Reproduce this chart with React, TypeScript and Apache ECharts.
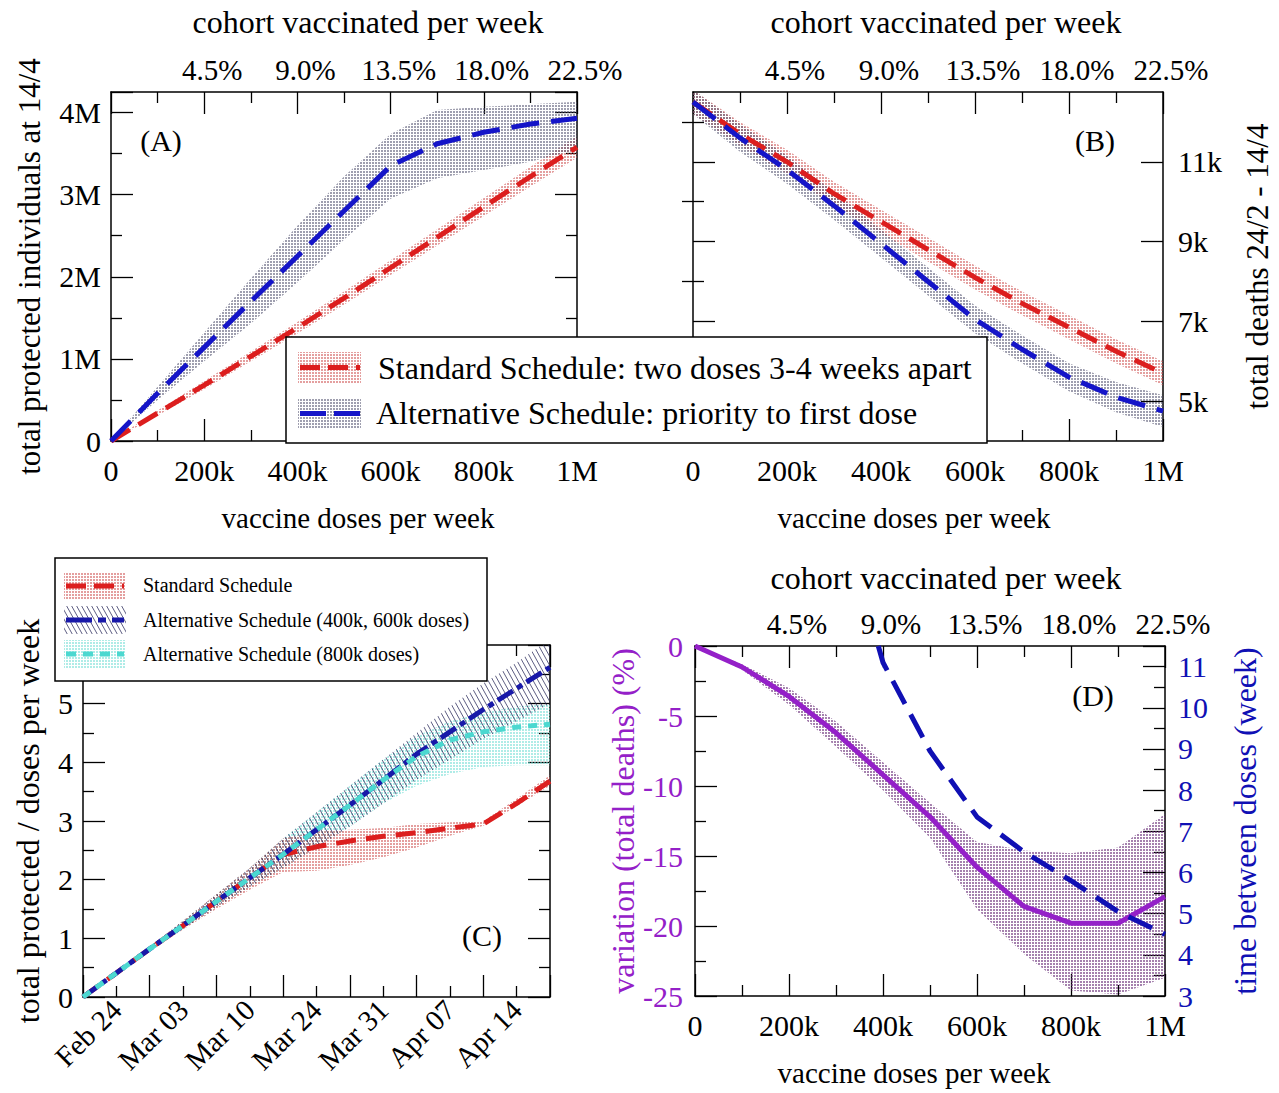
import React, { useEffect, useRef } from "react";
import * as echarts from "echarts";

const FONT = '"Liberation Serif", "Times New Roman", Times, serif';

// ---------- shared axes (thousand doses per week) ----------
const DOSES = [0, 100, 200, 300, 400, 500, 600, 700, 800, 900, 1000];
const DOSE_LABELS = ["0", "200k", "400k", "600k", "800k", "1M"];
const PCT_LABELS = ["", "4.5%", "9.0%", "13.5%", "18.0%", "22.5%"];

// ---------- Panel A : total protected individuals at 14/4 (millions) ----------
const A_STD = [0, 0.34, 0.68, 1.03, 1.38, 1.74, 2.11, 2.48, 2.85, 3.22, 3.58];
const A_STD_LO = [0, 0.31, 0.63, 0.97, 1.31, 1.66, 2.02, 2.38, 2.74, 3.1, 3.45];
const A_STD_HI = [0, 0.37, 0.73, 1.09, 1.45, 1.82, 2.2, 2.58, 2.96, 3.34, 3.71];
const A_ALT = [0, 0.58, 1.14, 1.7, 2.25, 2.8, 3.35, 3.62, 3.76, 3.86, 3.93];
const A_ALT_LO = [0, 0.5, 0.97, 1.43, 1.93, 2.45, 2.95, 3.2, 3.3, 3.4, 3.55];
const A_ALT_HI = [0, 0.66, 1.32, 1.98, 2.62, 3.22, 3.74, 4.03, 4.07, 4.1, 4.13];

// ---------- Panel B : total deaths 24/2 - 14/4 (thousands) ----------
const B_STD = [12.5, 11.7, 11.0, 10.2, 9.5, 8.8, 8.1, 7.45, 6.85, 6.25, 5.7];
const B_STD_LO = [12.2, 11.4, 10.7, 9.9, 9.2, 8.5, 7.8, 7.15, 6.55, 5.95, 5.4];
const B_STD_HI = [12.8, 12.0, 11.3, 10.5, 9.8, 9.1, 8.4, 7.75, 7.15, 6.55, 6.0];
const B_ALT = [12.5, 11.6, 10.8, 9.9, 8.95, 8.0, 7.05, 6.3, 5.6, 5.1, 4.75];
const B_ALT_LO = [12.2, 11.25, 10.45, 9.55, 8.6, 7.65, 6.7, 5.95, 5.25, 4.72, 4.35];
const B_ALT_HI = [12.8, 11.95, 11.15, 10.25, 9.3, 8.35, 7.4, 6.65, 5.95, 5.48, 5.15];
const B_MAJOR = [5, 7, 9, 11];
const B_MINOR = [6, 8, 10, 12];

// ---------- Panel C : total protected / doses per week ----------
const C_T = [0, 1, 2, 3, 4, 5, 6, 7, 8, 9, 10, 11, 12, 13, 14];
const C_DATE_POS = [1, 3, 5, 7, 9, 11, 13];
const C_DATE_LABELS = ["Feb 24", "Mar 03", "Mar 10", "Mar 24", "Mar 31", "Apr 07", "Apr 14"];
const C_STD = [0, 0.41, 0.82, 1.22, 1.63, 2.03, 2.43, 2.56, 2.66, 2.74, 2.8, 2.88, 2.95, 3.3, 3.68];
const C_STD_LO = [0, 0.39, 0.78, 1.15, 1.5, 1.83, 2.13, 2.15, 2.25, 2.38, 2.55, 2.75, 2.92, 3.25, 3.6];
const C_STD_HI = [0, 0.43, 0.86, 1.3, 1.75, 2.2, 2.7, 2.82, 2.85, 2.88, 2.95, 2.98, 3.0, 3.38, 3.78];
const C_ALT = [0, 0.41, 0.82, 1.22, 1.63, 2.03, 2.43, 2.85, 3.27, 3.7, 4.14, 4.52, 4.9, 5.26, 5.62];
const C_ALT_LO = [0, 0.39, 0.78, 1.16, 1.53, 1.88, 2.2, 2.55, 2.9, 3.3, 3.7, 4.05, 4.4, 4.7, 5.0];
const C_ALT_HI = [0, 0.43, 0.86, 1.3, 1.75, 2.2, 2.7, 3.15, 3.6, 4.05, 4.5, 4.95, 5.35, 5.7, 6.1];
const C_ALT8 = [0, 0.41, 0.82, 1.22, 1.63, 2.03, 2.43, 2.85, 3.27, 3.7, 4.1, 4.38, 4.52, 4.6, 4.65];
const C_ALT8_LO = [0, 0.39, 0.78, 1.16, 1.53, 1.88, 2.2, 2.55, 2.9, 3.3, 3.6, 3.8, 3.92, 3.95, 3.95];
const C_ALT8_HI = [0, 0.43, 0.86, 1.3, 1.75, 2.2, 2.7, 3.15, 3.6, 4.05, 4.45, 4.7, 4.85, 4.95, 5.0];

// ---------- Panel D ----------
const D_VAR = [0, -1.5, -3.6, -6.2, -9.2, -12.2, -15.8, -18.6, -19.8, -19.8, -17.9];
const D_VAR_LO = [0, -1.7, -4.2, -7.2, -10.3, -13.7, -18.8, -22.0, -24.6, -24.9, -23.7];
const D_VAR_HI = [0, -1.3, -3.0, -5.4, -8.3, -11.2, -14.0, -14.6, -14.8, -14.4, -12.0];
const D_GAP_X = [390, 400, 500, 600, 700, 800, 900, 1000];
const D_GAP = [11.5, 11.1, 8.95, 7.35, 6.5, 5.8, 5.05, 4.5];

// ---------- colours ----------
const RED = "#dc1e1e";
const BLUE = "#1515c8";
const NAVY = "#1818a8";
const CYAN = "#4cd8d0";
const PURPLE = "#9420c8";
const DBLUE = "#1010b4";

function dotPattern(color: string): any {
  const c = document.createElement("canvas");
  c.width = 3;
  c.height = 3;
  const g = c.getContext("2d")!;
  g.fillStyle = color;
  g.fillRect(0, 0, 2, 2);
  return { image: c, repeat: "repeat", imageWidth: 3, imageHeight: 3 };
}

function hatchPattern(): any {
  const w = 5;
  const h = 9;
  const c = document.createElement("canvas");
  c.width = w;
  c.height = h;
  const g = c.getContext("2d")!;
  g.strokeStyle = "rgba(40, 40, 90, 0.75)";
  g.lineWidth = 1;
  g.beginPath();
  for (let k = -1; k <= 1; k++) {
    g.moveTo(k * w, 0);
    g.lineTo(k * w + w, h);
  }
  g.stroke();
  return { image: c, repeat: "repeat", imageWidth: w, imageHeight: h };
}

const zip = (xs: number[], ys: number[]) => xs.map((x, i) => [x, ys[i]]);

const LINE_AX = { show: true, onZero: false, lineStyle: { color: "#000", width: 1.5 } };
const TICK_STYLE = { color: "#000", width: 1.3 };

function valAxis(gridIndex: number, position: string, min: number, max: number, interval: number | undefined, extra: any = {}) {
  return {
    type: "value",
    gridIndex,
    position,
    min,
    max,
    interval,
    axisLine: LINE_AX,
    axisTick: { show: true, inside: true, length: 22, lineStyle: TICK_STYLE },
    minorTick: { show: true, splitNumber: 2, length: 11, lineStyle: TICK_STYLE },
    splitLine: { show: false },
    minorSplitLine: { show: false },
    axisLabel: { show: false },
    ...extra,
  };
}

const lbl = (fmt: (v: number) => string, extra: any = {}) => ({
  show: true,
  fontFamily: FONT,
  fontSize: 30,
  color: "#000",
  margin: 14,
  formatter: fmt,
  ...extra,
});

// dx shifts a centred axis name along its axis (positive = right)
const nameCfg = (name: string, gap: number, size: number, color = "#000", dx = 0) => ({
  name,
  nameLocation: "middle",
  nameGap: gap,
  nameTextStyle: {
    fontFamily: FONT,
    fontSize: size,
    color,
    padding: dx >= 0 ? [0, 0, 0, 2 * dx] : [0, -2 * dx, 0, 0],
  },
});

const doseFmt = (v: number) => DOSE_LABELS[Math.round(v / 200)] ?? "";
const pctFmt = (v: number) => PCT_LABELS[Math.round(v / 200)] ?? "";
const PCT_LABEL = lbl(pctFmt, { fontSize: 29, margin: 8, padding: [0, 0, 0, 16] });

function band(xs: number[], lo: number[], hi: number[], xi: number, yi: number, fill: any) {
  return {
    type: "custom",
    xAxisIndex: xi,
    yAxisIndex: yi,
    data: [[xs[0], lo[0]]],
    silent: true,
    z: 1,
    renderItem: (params: any, api: any) => {
      const pts: number[][] = [];
      for (let i = 0; i < xs.length; i++) pts.push(api.coord([xs[i], hi[i]]));
      for (let i = xs.length - 1; i >= 0; i--) pts.push(api.coord([xs[i], lo[i]]));
      const cs = params.coordSys;
      return {
        type: "polygon",
        shape: { points: pts },
        style: { fill },
        silent: true,
        clipPath: { type: "rect", shape: { x: cs.x, y: cs.y, width: cs.width, height: cs.height } },
      };
    },
  };
}

function line(xs: number[], ys: number[], xi: number, yi: number, color: string, type: any, width = 5) {
  return {
    type: "line",
    xAxisIndex: xi,
    yAxisIndex: yi,
    data: zip(xs, ys),
    symbol: "none",
    silent: true,
    lineStyle: { color, width, type, cap: "butt" },
    z: 3,
  };
}

function txt(text: string, x: number, y: number, size: number, align = "left") {
  return {
    type: "text",
    z: 101,
    style: { text, x, y, font: `${size}px ${FONT}`, fill: "#000", textAlign: align, textVerticalAlign: "middle", verticalAlign: "middle" },
  };
}
function rect(x: number, y: number, w: number, h: number, style: any, z = 100) {
  return { type: "rect", z, shape: { x, y, width: w, height: h }, style };
}
function seg(x1: number, y1: number, x2: number, y2: number, stroke: string, lineDash: number[], lineWidth = 5) {
  return { type: "line", z: 102, shape: { x1, y1, x2, y2 }, style: { stroke, lineWidth, lineDash } };
}

export default function App() {
  const ref = useRef<HTMLDivElement>(null);
  useEffect(() => {
    if (!ref.current) return;
    const chart = echarts.init(ref.current, null, { renderer: "svg" });
    const HATCH = hatchPattern();
    const PINK = dotPattern("rgba(205, 80, 80, 0.55)");
    const GREY = dotPattern("rgba(80, 80, 110, 0.55)");
    const PURP = dotPattern("rgba(105, 45, 120, 0.6)");
    const CYANP = dotPattern("rgba(110, 220, 212, 0.55)");

    const option: any = {
      animation: false,
      textStyle: { fontFamily: FONT },
      grid: [
        { left: 111, top: 92, width: 466, height: 349 },
        { left: 693, top: 92, width: 470, height: 349 },
        { left: 83, top: 645, width: 467, height: 352 },
        { left: 695, top: 646, width: 470, height: 350 },
      ],
      xAxis: [
        // A
        valAxis(0, "bottom", 0, 1000, 200, { axisLabel: lbl(doseFmt), ...nameCfg("vaccine doses per week", 62, 29, "#000", 14) }),
        valAxis(0, "top", 0, 1000, 200, { axisLabel: PCT_LABEL, ...nameCfg("cohort vaccinated per week", 54, 32, "#000", 24) }),
        // B
        valAxis(1, "bottom", 0, 1000, 200, { axisLabel: lbl(doseFmt), ...nameCfg("vaccine doses per week", 62, 29, "#000", -14) }),
        valAxis(1, "top", 0, 1000, 200, { axisLabel: PCT_LABEL, ...nameCfg("cohort vaccinated per week", 54, 32, "#000", 18) }),
        // C
        valAxis(2, "bottom", 0, 14, 2, {
          axisLabel: lbl((v: number) => C_DATE_LABELS[C_DATE_POS.indexOf(Math.round(v))] ?? "", {
            customValues: C_DATE_POS,
            rotate: 45,
            fontSize: 29,
            margin: 8,
          }),
        }),
        valAxis(2, "top", 0, 14, 2),
        // D
        valAxis(3, "bottom", 0, 1000, 200, { axisLabel: lbl(doseFmt), ...nameCfg("vaccine doses per week", 62, 29, "#000", -16) }),
        valAxis(3, "top", 0, 1000, 200, { axisLabel: PCT_LABEL, ...nameCfg("cohort vaccinated per week", 52, 32, "#000", 16) }),
      ],
      yAxis: [
        // A
        valAxis(0, "left", 0, 4.25, 1, {
          axisLabel: lbl((v: number) => (v === 0 ? "0" : v + "M"), { margin: 10, showMaxLabel: false }),
          ...nameCfg("total protected individuals at 14/4", 66, 31),
        }),
        valAxis(0, "right", 0, 4.25, 1),
        // B
        valAxis(1, "left", 4, 12.75, undefined, {
          minorTick: { show: false },
          axisTick: { show: true, inside: true, length: 22, lineStyle: TICK_STYLE, customValues: B_MAJOR },
        }),
        valAxis(1, "left", 4, 12.75, undefined, {
          minorTick: { show: false },
          axisLine: { show: false },
          axisTick: { show: true, inside: true, length: 11, lineStyle: TICK_STYLE, customValues: B_MINOR },
        }),
        valAxis(1, "right", 4, 12.75, undefined, {
          minorTick: { show: false },
          axisTick: { show: true, inside: true, length: 22, lineStyle: TICK_STYLE, customValues: B_MAJOR },
          axisLabel: lbl((v: number) => v + "k", { customValues: B_MAJOR, margin: 15 }),
          ...nameCfg("total deaths 24/2 - 14/4", 79, 31),
        }),
        valAxis(1, "right", 4, 12.75, undefined, {
          minorTick: { show: false },
          axisLine: { show: false },
          axisTick: { show: true, inside: true, length: 11, lineStyle: TICK_STYLE, customValues: B_MINOR },
        }),
        // C
        valAxis(2, "left", 0, 6, 1, {
          axisLabel: lbl((v: number) => String(v), { margin: 10, showMaxLabel: false }),
          ...nameCfg("total protected / doses per week", 39, 32),
        }),
        valAxis(2, "right", 0, 6, 1),
        // D
        valAxis(3, "left", -25, 0, 5, {
          axisLabel: lbl((v: number) => String(v), { margin: 12, color: PURPLE }),
          ...nameCfg("variation (total deaths) (%)", 54, 32, PURPLE),
        }),
        valAxis(3, "right", 3, 11.5, 1, {
          axisLabel: lbl((v: number) => String(v), { margin: 13, color: DBLUE, showMaxLabel: false }),
          ...nameCfg("time between doses (week)", 64, 32, DBLUE),
        }),
      ],
      series: [
        // A
        band(DOSES, A_STD_LO, A_STD_HI, 0, 0, PINK),
        band(DOSES, A_ALT_LO, A_ALT_HI, 0, 0, GREY),
        line(DOSES, A_STD, 0, 0, RED, [22, 10]),
        line(DOSES, A_ALT, 0, 0, BLUE, [28, 12]),
        // B
        band(DOSES, B_STD_LO, B_STD_HI, 2, 2, PINK),
        band(DOSES, B_ALT_LO, B_ALT_HI, 2, 2, GREY),
        line(DOSES, B_STD, 2, 2, RED, [22, 10]),
        line(DOSES, B_ALT, 2, 2, BLUE, [28, 12]),
        // C
        band(C_T, C_ALT8_LO, C_ALT8_HI, 4, 6, CYANP),
        band(C_T, C_STD_LO, C_STD_HI, 4, 6, PINK),
        band(C_T, C_ALT_LO, C_ALT_HI, 4, 6, HATCH),
        line(C_T, C_STD, 4, 6, RED, [20, 10]),
        line(C_T, C_ALT, 4, 6, NAVY, [18, 5, 6, 5]),
        line(C_T, C_ALT8, 4, 6, CYAN, [9, 7]),
        // D
        band(DOSES, D_VAR_LO, D_VAR_HI, 6, 8, PURP),
        line(DOSES, D_VAR, 6, 8, PURPLE, "solid", 5),
        line(D_GAP_X, D_GAP, 6, 9, DBLUE, [26, 12]),
      ],
      graphic: {
        elements: [
          // panel tags
          txt("(A)", 161, 140, 30, "center"),
          txt("(B)", 1095, 140, 30, "center"),
          txt("(C)", 482, 935, 30, "center"),
          txt("(D)", 1093, 695, 30, "center"),
          // legend A/B
          rect(286, 337, 701, 106, { fill: "#fff", stroke: "#000", lineWidth: 1.5 }),
          rect(298, 352, 63, 31, { fill: PINK }, 101),
          seg(300, 367.5, 360, 367.5, RED, [20, 8]),
          txt("Standard Schedule: two doses 3-4 weeks apart", 378, 368, 32),
          rect(298, 398, 63, 31, { fill: GREY }, 101),
          seg(300, 413.5, 360, 413.5, BLUE, [26, 8]),
          txt("Alternative Schedule: priority to first dose", 376, 413, 32),
          // legend C
          rect(55, 558, 432, 123, { fill: "#fff", stroke: "#000", lineWidth: 1.5 }),
          rect(64, 572, 62, 28, { fill: PINK }, 101),
          seg(66, 586, 124, 586, RED, [20, 8]),
          txt("Standard Schedule", 143, 585, 20),
          rect(64, 606, 62, 28, { fill: HATCH }, 101),
          seg(66, 620, 124, 620, NAVY, [26, 6, 8, 6]),
          txt("Alternative Schedule (400k, 600k doses)", 143, 620, 20),
          rect(64, 640, 62, 28, { fill: CYANP }, 101),
          seg(66, 654, 124, 654, CYAN, [10, 7]),
          txt("Alternative Schedule (800k doses)", 143, 654, 20),
        ],
      },
    };
    chart.setOption(option);
    return () => chart.dispose();
  }, []);
  return (
    <div
      ref={ref}
      style={{ position: "absolute", left: 0, top: 0, width: 1279, height: 1093, background: "#fff" }}
    />
  );
}
